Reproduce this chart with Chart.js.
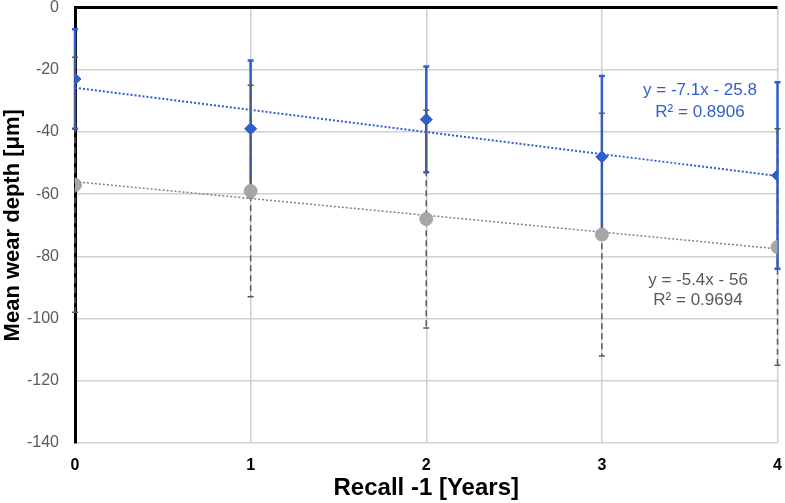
<!DOCTYPE html>
<html>
<head>
<meta charset="utf-8">
<script src="https://cdn.jsdelivr.net/npm/chart.js@4/dist/chart.umd.min.js"></script>
<style>
  html, body { margin: 0; padding: 0; background: #fff; }
  #wrap { width: 785px; height: 503px; }
</style>
</head>
<body>
<div id="wrap"><canvas id="grafico"></canvas></div>
<script>
const years = [0, 1, 2, 3, 4];
const blueMean = [-23, -39, -36, -48, -54];
const blueErr = [16, 22, 17, 26, 30];
const grayMean = [-57, -59, -68, -73, -77];
const grayErr = [41, 34, 35, 39, 38];
const yTicks = [0, -20, -40, -60, -80, -100, -120, -140];

const BLUE = '#2f5fcc';
const GRAY = '#a6a6a6';
const TXT = '#595959';
const FONT = '"Liberation Sans", Arial, sans-serif';

function fit(xs, ys) {
  const n = xs.length;
  const mx = xs.reduce((a, b) => a + b, 0) / n;
  const my = ys.reduce((a, b) => a + b, 0) / n;
  let sxy = 0, sxx = 0, syy = 0;
  for (let i = 0; i < n; i++) {
    sxy += (xs[i] - mx) * (ys[i] - my);
    sxx += (xs[i] - mx) ** 2;
    syy += (ys[i] - my) ** 2;
  }
  const m = sxy / sxx;
  return { m: m, b: my - m * mx, r2: (sxy * sxy) / (sxx * syy) };
}
const blueFit = fit(years, blueMean);
const grayFit = fit(years, grayMean);
const trend = (f) => [
  { x: years[0], y: f.m * years[0] + f.b },
  { x: years[years.length - 1], y: f.m * years[years.length - 1] + f.b }
];
const pts = (ys) => years.map((x, i) => ({ x: x, y: ys[i] }));

// error bars under the markers, axis line at y = 0 and trendline labels on top
const extras = {
  id: 'extras',
  beforeDatasetsDraw(chart) {
    const { ctx, scales: { x, y } } = chart;
    ctx.save();
    // blue error bars (solid)
    ctx.strokeStyle = BLUE;
    ctx.lineWidth = 2.5;
    years.forEach((v, i) => {
      const px = x.getPixelForValue(v);
      const t = y.getPixelForValue(blueMean[i] + blueErr[i]);
      const b = y.getPixelForValue(blueMean[i] - blueErr[i]);
      ctx.beginPath();
      ctx.moveTo(px, t); ctx.lineTo(px, b);
      ctx.moveTo(px - 3, t); ctx.lineTo(px + 3, t);
      ctx.moveTo(px - 3, b); ctx.lineTo(px + 3, b);
      ctx.stroke();
    });
    // gray error bars (dashed)
    ctx.strokeStyle = '#595959';
    ctx.lineWidth = 1.5;
    years.forEach((v, i) => {
      const px = x.getPixelForValue(v);
      const t = y.getPixelForValue(grayMean[i] + grayErr[i]);
      const b = y.getPixelForValue(grayMean[i] - grayErr[i]);
      ctx.setLineDash([6, 4]);
      ctx.beginPath();
      ctx.moveTo(px, t); ctx.lineTo(px, b);
      ctx.stroke();
      ctx.setLineDash([]);
      ctx.beginPath();
      ctx.moveTo(px - 3, t); ctx.lineTo(px + 3, t);
      ctx.moveTo(px - 3, b); ctx.lineTo(px + 3, b);
      ctx.stroke();
    });
    ctx.restore();
  },
  afterDatasetsDraw(chart) {
    const { ctx, scales: { y }, chartArea } = chart;
    ctx.save();
    // horizontal axis crossing at 0
    ctx.strokeStyle = '#000';
    ctx.lineWidth = 3;
    const y0 = y.getPixelForValue(0);
    ctx.beginPath();
    ctx.moveTo(chartArea.left - 1, y0);
    ctx.lineTo(chartArea.right, y0);
    ctx.stroke();
    // trendline equations
    ctx.font = '17px ' + FONT;
    ctx.textAlign = 'center';
    ctx.textBaseline = 'middle';
    ctx.fillStyle = BLUE;
    ctx.fillText('y = -7.1x - 25.8', 700, 90);
    ctx.fillText('R² = ' + blueFit.r2.toFixed(4), 700, 112);
    ctx.fillStyle = TXT;
    ctx.fillText('y = -5.4x - 56', 698, 280);
    ctx.fillText('R² = ' + grayFit.r2.toFixed(4), 698, 300);
    ctx.restore();
  }
};

const ctx = document.getElementById('grafico').getContext('2d');

const grafico = new Chart(ctx, {
  type: 'scatter',
  data: {
    datasets: [
      {
        label: 'Blue trend',
        type: 'line',
        data: trend(blueFit),
        borderColor: BLUE,
        borderWidth: 2,
        borderDash: [2, 2],
        pointRadius: 0,
        fill: false
      },
      {
        label: 'Gray trend',
        type: 'line',
        data: trend(grayFit),
        borderColor: '#808080',
        borderWidth: 1.5,
        borderDash: [2, 2],
        pointRadius: 0,
        fill: false
      },
      {
        label: 'Blue',
        data: pts(blueMean),
        pointStyle: 'rectRot',
        pointRadius: 6,
        backgroundColor: BLUE,
        borderColor: BLUE,
        order: -1
      },
      {
        label: 'Gray',
        data: pts(grayMean),
        pointStyle: 'circle',
        pointRadius: 6.5,
        backgroundColor: GRAY,
        borderColor: GRAY,
        order: -2
      }
    ]
  },
  plugins: [extras],
  options: {
    responsive: true,
    maintainAspectRatio: false,
    animation: false,
    layout: { padding: { top: 7, right: 1, left: 0, bottom: 0 } },
    plugins: {
      legend: { display: false },
      tooltip: { enabled: false }
    },
    scales: {
      x: {
        type: 'linear',
        min: 0,
        max: 4,
        afterFit(s) { s.height = 60; },
        ticks: {
          stepSize: 1,
          color: '#000',
          padding: 0,
          font: { size: 16, weight: 'bold', family: FONT }
        },
        grid: { color: '#d0d0d0', lineWidth: 1.5, drawTicks: true, tickLength: 13, tickColor: 'rgba(0,0,0,0)' },
        border: { display: false },
        title: {
          display: true,
          text: 'Recall -1 [Years]',
          color: '#000',
          padding: { top: 0, bottom: 0 },
          font: { size: 24, weight: 'bold', family: FONT }
        }
      },
      y: {
        min: -140,
        max: 0,
        afterFit(s) { s.width = 75; },
        afterBuildTicks(s) { s.ticks = yTicks.map(v => ({ value: v })); },
        ticks: {
          color: TXT,
          padding: 0,
          font: { size: 16, family: FONT, lineHeight: 0.8 }
        },
        grid: { color: '#d0d0d0', lineWidth: 1.5, drawTicks: true, tickLength: 16, tickColor: 'rgba(0,0,0,0)' },
        border: { display: true, color: '#000', width: 3 },
        title: {
          display: true,
          text: 'Mean wear depth [μm]',
          color: '#000',
          padding: { top: 0, bottom: 0 },
          font: { size: 22, weight: 'bold', family: FONT }
        }
      }
    }
  }
});
</script>
</body>
</html>
